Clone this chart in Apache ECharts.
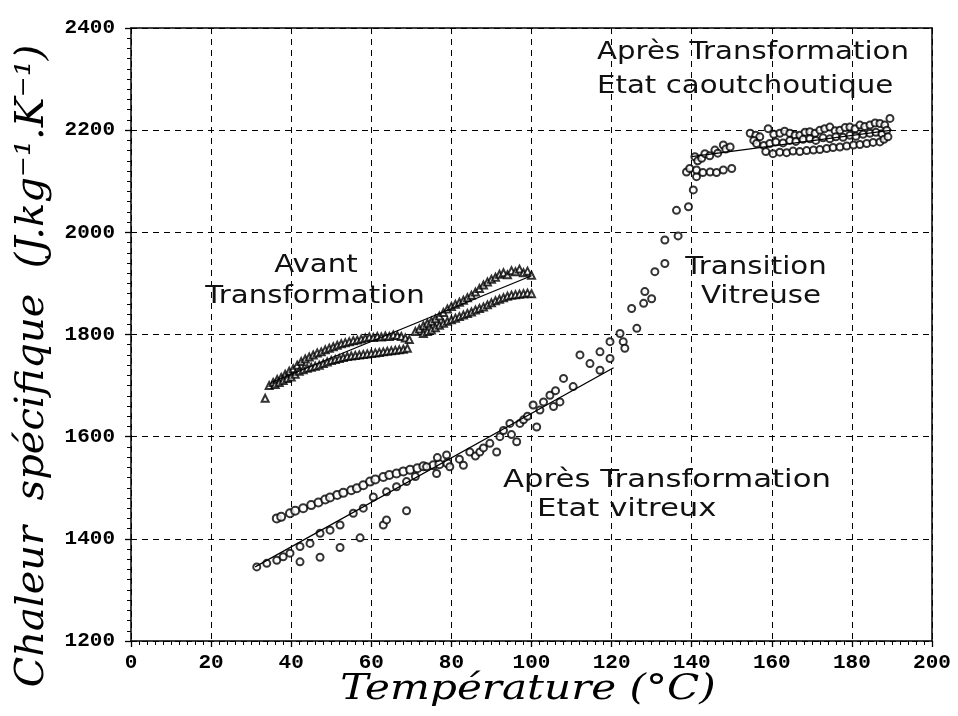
<!DOCTYPE html>
<html><head><meta charset="utf-8">
<script src="https://cdn.jsdelivr.net/npm/echarts@6/dist/echarts.min.js"></script>
<style>html,body{margin:0;padding:0;background:#fff}#c{width:958px;height:716px}</style>
</head><body><div id="c"></div>
<script>
// ---- data ----
const xTicks = [0,20,40,60,80,100,120,140,160,180,200];
const yTicks = [1200,1400,1600,1800,2000,2200,2400];

const avantLone = [[33.5,1675]];
const avantUpper = [[34.5,1700],[35.5,1706],[36.5,1712],[37.5,1716],[38.5,1722],[39.5,1728],[40.5,1733],[41.5,1740],[42.5,1747],[43.5,1752],[44.5,1756],[45.5,1760],[46.5,1764],[47.5,1766],[48.5,1770],[49.5,1773],[50.5,1776],[51.5,1779],[52.5,1782],[53.5,1784],[54.5,1786],[55.5,1788],[56.5,1789],[57.5,1791],[58.5,1793],[59.5,1795],[60.5,1794],[61.5,1796],[62.5,1795],[63.5,1797],[64.5,1796],[65.5,1799],[66.5,1798],[67.5,1796],[68.5,1793],[69.5,1790],
  [71,1806],[72,1811],[73,1817],[74,1822],[75,1826],[76,1831],[77,1836],[78,1843],[79,1850],[80,1855],[81,1859],[82,1863],[83,1867],[84,1872],[85,1877],[86,1883],[87,1890],[88,1897],[89,1903],[90,1908],[91,1912],[92,1918],[93,1921],[94,1917],[95,1925],[96,1923],[97,1928],[98,1921],[99,1924],[100,1916]];
const avantLower = [[36,1702],[37,1706],[38,1710],[39,1714],[40,1717],[41,1722],[42,1728],[43,1731],[44,1734],[45,1736],[46,1738],[47,1740],[48,1743],[49,1746],[50,1749],[51,1751],[52,1753],[53,1755],[54,1757],[55,1758],[56,1759],[57,1760],[58,1761],[59,1762],[60,1763],[61,1764],[62,1765],[63,1766],[64,1767],[65,1768],[66,1769],[67,1770],[68,1771],[69,1773],
  [73,1802],[74,1806],[75,1809],[76,1813],[77,1818],[78,1822],[79,1826],[80,1829],[81,1832],[82,1835],[83,1838],[84,1841],[85,1844],[86,1848],[87,1851],[88,1854],[89,1858],[90,1862],[91,1866],[92,1869],[93,1872],[94,1875],[95,1877],[96,1878],[97,1879],[98,1880],[99,1881],[100,1880]];

const vitreuxDark = [[36.4,1440],[37.5,1443],[39.7,1450],[41,1455],[43,1460],[45,1466],[46.8,1471],[48.5,1477],[49.7,1481],[51.5,1486],[53,1490],[55,1495],[56.4,1499],[58,1505],[59.7,1512],[61,1516],[63,1521],[64.5,1525],[66.3,1528],[68,1532],[69.7,1535],[71.5,1538],[73,1542],[75.5,1544],[77,1546],[79,1548]];
const vitreuxOpen = [[31.4,1345],[33.9,1352],[36.4,1358],[38,1365],[39.7,1372],[42.2,1385],[44.7,1391],[47.2,1411],[49.7,1417],[52.2,1427],[55.5,1450],[58,1460],[60.5,1482],[63.8,1492],[66.3,1502],[68.8,1512],[71,1522],[73.8,1541],[76.3,1528],[76.5,1559],[78.8,1564],[79.6,1541],[82,1556],[83,1544],[84.6,1570],[86,1562],[87.1,1570],[88,1578],[89.6,1587],[91.3,1570],[92.1,1600],[93,1612],[94.6,1626],[95,1604],[96.3,1590],[97.1,1626],[98,1633],[99,1640],[100.4,1662],[101.3,1619],[102.1,1652],[103,1668],[104.6,1681],[105.5,1659],[106,1690],[107.1,1668],[108,1714],[110.4,1698],[112.1,1760],[114.6,1743],[117.1,1730],[117.1,1766],[119.6,1753]];
const vitreuxLow = [[42.2,1355],[47.2,1364],[52.2,1383],[57.2,1402],[63,1427],[63.8,1437],[68.8,1455]];
const transition = [[119.6,1786],[122.1,1802],[122.9,1786],[123.3,1773],[126.3,1812],[125,1851],[128,1861],[130,1870],[128.3,1884],[130.8,1923],[133.3,1939],[133.3,1985],[136.6,1993],[136.2,2043],[139.2,2050],[140.4,2083],[141.2,2109],[138.7,2118]];
const caoutEarly = [[139.5,2125],[141.2,2122],[142.8,2117],[144.6,2118],[146.2,2117],[147.9,2122],[150,2125],
  [140.8,2148],[141.5,2140],[142.5,2145],[143.3,2154],[144.5,2150],[145.8,2161],[146.5,2155],[147.9,2171],[148.5,2163],[149.6,2167]];
const caoutUpper = [[154.6,2194],[156,2190],[157,2187],[159.1,2203],[160.5,2192],[162,2194],[163.2,2198],[164.5,2194],[165.8,2190],[167,2190],[168.3,2196],[169.5,2197],[170.8,2194],[172,2200],[173.2,2203],[174.5,2206],[175.8,2199],[177,2200],[178.3,2205],[179.5,2206],[180.8,2203],[182,2210],[183.2,2207],[184.5,2210],[185.8,2214],[187,2213],[188.2,2210],[189.5,2223]];
const caoutMiddle = [[155.5,2180],[156.2,2174],[158,2170],[159.5,2174],[161,2177],[162.8,2175],[164.5,2180],[166,2178],[167.8,2182],[169.5,2183],[171,2180],[172.8,2185],[174.5,2183],[176,2187],[177.8,2186],[179.5,2190],[181,2188],[182.8,2192],[184.5,2194],[186,2196],[187.5,2193],[188.7,2200]];
const caoutLower = [[158.5,2158],[160.3,2154],[162,2157],[163.7,2156],[165.3,2159],[167,2158],[168.7,2160],[170.4,2161],[172,2162],[173.7,2164],[175.3,2166],[177,2167],[178.7,2169],[180.4,2171],[182,2172],[183.7,2174],[185.3,2176],[187,2177],[188,2182],[189,2187]];

const fitAvant = [[35,1706],[100,1915]];
const fitVitreux = [[31,1345],[120.5,1735]];
const fitCaout = [[140,2148],[190,2200]];

const xTitle = 'Température (°C)';
const yTitle = 'Chaleur  spécifique  (J.kg⁻¹.K⁻¹)';
const labels = {
  avant1:'Avant', avant2:'Transformation',
  caout1:'Après Transformation', caout2:'Etat caoutchoutique',
  trans1:'Transition', trans2:'Vitreuse',
  vitr1:'Après Transformation', vitr2:'Etat vitreux'
};

// ---- chart ----
const chart = echarts.init(document.getElementById('c'), null, {renderer:'canvas'});
const tickFont = {color:'#000', fontFamily:'Liberation Mono', fontWeight:'bold', fontSize:21};
function sc(data, sym, size, bw){
  return {type:'scatter', data, symbol:sym, symbolSize:size, silent:true,
    itemStyle:{color:'#000', borderColor:'#000', borderWidth:bw}, z:3};
}
function fit(data){
  return {type:'line', data, symbol:'none', silent:true, lineStyle:{color:'#000', width:1.3}, z:4};
}
function txt(x,y,t,align,sx){
  return {type:'text', x:x, y:y, scaleX:sx||1.17, style:{text:t, font:'25px "DejaVu Sans"', fill:'#111', textAlign:align||'left', textVerticalAlign:'middle'}, z:10};
}
chart.setOption({
  animation:false,
  backgroundColor:'#fff',
  grid:{left:131, right:26, top:28, bottom:75},
  xAxis:[{
    type:'value', min:0, max:200, interval:20,
    axisLine:{lineStyle:{color:'#000', width:1.5}},
    axisTick:{show:true, inside:false, length:6, lineStyle:{color:'#000', width:1.3}},
    minorTick:{show:true, splitNumber:10, length:4, lineStyle:{color:'#000', width:1}},
    axisLabel:Object.assign({margin:11, formatter:v=>xTicks.includes(v)?String(v):''}, tickFont),
    splitLine:{show:true, lineStyle:{color:'#000', type:[6,5], width:1}}
  },{
    type:'value', min:0, max:200, position:'top',
    axisLine:{show:true, onZero:false, lineStyle:{color:'#000', width:1.5}},
    axisTick:{show:false}, axisLabel:{show:false}, splitLine:{show:false}
  }],
  yAxis:[{
    type:'value', min:1200, max:2400, interval:200,
    axisLine:{show:true, lineStyle:{color:'#000', width:1.5}},
    axisTick:{show:true, length:6, lineStyle:{color:'#000', width:1.3}},
    minorTick:{show:true, splitNumber:10, length:4, lineStyle:{color:'#000', width:1}},
    axisLabel:Object.assign({margin:16, formatter:v=>yTicks.includes(v)?String(v):''}, tickFont),
    splitLine:{show:true, lineStyle:{color:'#000', type:[6,5], width:1}}
  },{
    type:'value', min:1200, max:2400, position:'right',
    axisLine:{show:true, onZero:false, lineStyle:{color:'#000', width:1.5}},
    axisTick:{show:false}, axisLabel:{show:false}, splitLine:{show:false}
  }],
  series:[
    sc(avantLone,'emptyTriangle',7,1.2),
    sc(avantUpper,'emptyTriangle',7,2.3),
    sc(avantLower,'emptyTriangle',7,2.3),
    sc(vitreuxDark,'emptyCircle',8,2.6),
    sc(vitreuxOpen,'emptyCircle',7,1.3),
    sc(vitreuxLow,'emptyCircle',7,1.3),
    sc(transition,'emptyCircle',7,1.3),
    sc(caoutEarly,'emptyCircle',7,1.6),
    sc(caoutUpper,'emptyCircle',7,1.8),
    sc(caoutMiddle,'emptyCircle',7,1.8),
    sc(caoutLower,'emptyCircle',7,1.3),
    fit(fitAvant), fit(fitVitreux), fit(fitCaout)
  ],
  graphic:[
    txt(316,265,labels.avant1,'center'),
    txt(315,296,labels.avant2,'center'),
    txt(597,52,labels.caout1),
    txt(597,86,labels.caout2),
    txt(756,267,labels.trans1,'center'),
    txt(761,296,labels.trans2,'center'),
    txt(503,480,labels.vitr1,'left',1.23),
    txt(537,509,labels.vitr2,'left',1.23),
    {type:'text', x:528, y:690, scaleX:1.17, style:{text:xTitle, font:'italic 36px "DejaVu Serif"', fill:'#000', textAlign:'center', textVerticalAlign:'middle'}, z:10},
    {type:'text', x:33, y:366, rotation:Math.PI/2, style:{text:yTitle, font:'italic 40px "DejaVu Serif"', fill:'#000', textAlign:'center', textVerticalAlign:'middle'}, z:10}
  ]
});
</script></body></html>
